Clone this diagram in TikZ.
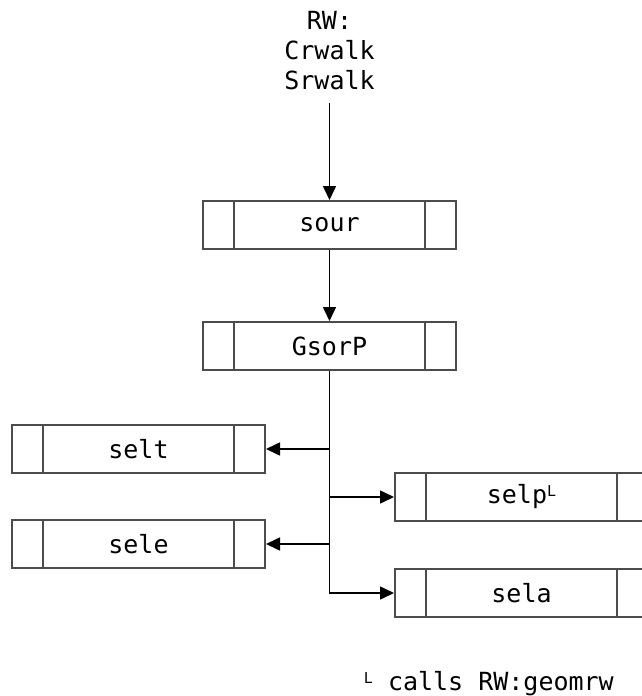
\documentclass[tikz,border=0pt]{standalone}
\usepackage{fontspec}
\setmonofont{DejaVu Sans Mono}
\usetikzlibrary{arrows.meta,calc}
\newcommand\supL{\raisebox{7pt}{\fontsize{15}{15}\selectfont L}}
\begin{document}
\begin{tikzpicture}[x=1pt,y=-1pt,
  txt/.style={font=\ttfamily\fontsize{25}{30}\selectfont, text=black},
  pbox/.style={txt, draw=black!70, line width=2pt, minimum width=253pt, minimum height=48pt, inner sep=0pt,
    path picture={\draw[black!70, line width=2pt]
      ([xshift=31pt]path picture bounding box.north west) -- ([xshift=31pt]path picture bounding box.south west)
      ([xshift=-31pt]path picture bounding box.north east) -- ([xshift=-31pt]path picture bounding box.south east);}},
  arr/.style={draw=black, line width=1.6pt, -{Triangle[length=14pt,width=13pt]}}]
\useasboundingbox (0,0) rectangle (642,696);
\node[txt, align=center, inner sep=0pt] (rw) at (329.5,51) {RW:\\Crwalk\\Srwalk};
\node[pbox] (sour) at (329.5,225) {sour};
\node[pbox] (gsorp) at (329.5,346) {GsorP};
\node[pbox] (selt) at (138.5,449) {selt};
\node[pbox] (sele) at (138.5,544) {sele};
\node[pbox] (selp) at (521.5,497) {selp\supL};
\node[pbox] (sela) at (521.5,593) {sela};
\draw[arr] ([yshift=-13pt]rw.south) -- (sour.north);
\draw[arr] (sour.south) -- (gsorp.north);
\draw[arr] (gsorp.south) |- (sela.west);
\draw[arr] (gsorp.south |- selt.east) -- (selt.east);
\draw[arr] (gsorp.south |- selp.west) -- (selp.west);
\draw[arr] (gsorp.south |- sele.east) -- (sele.east);
\node[txt, anchor=base east, inner sep=0pt] (note) at (614,690) {\supL\ calls RW:geomrw};
\end{tikzpicture}
\end{document}
